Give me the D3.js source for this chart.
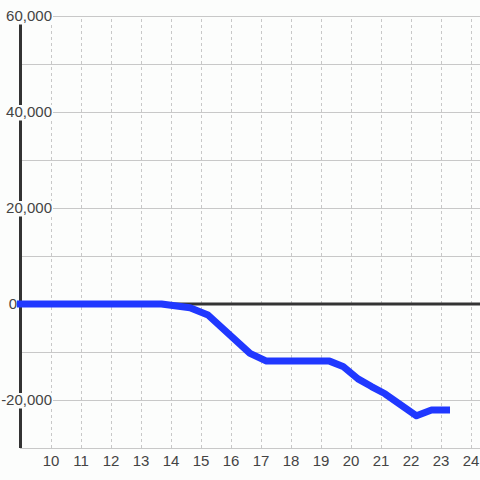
<!DOCTYPE html>
<html>
<head>
<meta charset="utf-8">
<script src="https://cdn.jsdelivr.net/npm/d3@7"></script>
<style>
body { margin: 0; background: #fcfdfc; }
svg { display: block; font-family: 'Liberation Sans', Arial, sans-serif; }
</style>
</head>
<body>
<svg width="480" height="480"></svg>
<script>
// series
const xValues = [9, 13.7, 14.65, 15.25, 16.65, 17.2, 19.3, 19.75, 20.25, 20.7, 21.15, 22.2, 22.7, 23.2]
const yValues = [0, 0, -800, -2300, -10300, -11900, -11900, -13000, -15600, -17200, -18700, -23300, -22100, -22100]

const xTicks = d3.range(10, 25)
const yTicks = [-20000, 0, 20000, 40000, 60000]
const yGrid = d3.range(-30000, 60001, 10000)

const x = d3.scaleLinear().domain([9, 24.3]).range([20.5, 479.5])
const y = d3.scaleLinear().domain([-30000, 60000]).range([448, 16])

const svg = d3.select('svg')

// horizontal grid
svg.append('g')
    .selectAll('line')
    .data(yGrid)
    .enter()
    .append('line')
    .attr('x1', 20)
    .attr('x2', 480)
    .attr('y1', d => Math.round(y(d)) + 0.5)
    .attr('y2', d => Math.round(y(d)) + 0.5)
    .attr('stroke', '#c8c8c8')

// x axis with dashed vertical grid
const xAxis = svg.append('g')
    .attr('transform', 'translate(0,448)')
    .call(d3.axisBottom(x).tickValues(xTicks).tickSize(-432).tickPadding(7))
xAxis.select('.domain').remove()
xAxis.selectAll('.tick line')
    .attr('stroke', '#c8c8c8')
    .attr('stroke-dasharray', '3,3')
    .attr('transform', 'translate(0.5,0)')
xAxis.selectAll('.tick text')
    .attr('fill', '#444')
    .style('font-size', '15px')
    .style('font-family', 'Liberation Sans, Arial, sans-serif')

// y axis line
svg.append('line')
    .attr('x1', 20.5).attr('x2', 20.5)
    .attr('y1', y(60000)).attr('y2', y(-30000))
    .attr('stroke', '#333')
    .attr('stroke-width', 3)

// zero line
svg.append('line')
    .attr('x1', 20).attr('x2', 480)
    .attr('y1', y(0)).attr('y2', y(0))
    .attr('stroke', '#333')
    .attr('stroke-width', 3)

// y labels with a background
const fmt = d => d3.format(',')(d).replace('\u2212', '-')
const yAxis = svg.append('g')
    .attr('transform', 'translate(52,0)')
    .call(d3.axisLeft(y).tickValues(yTicks).tickSize(0).tickPadding(0).tickFormat(fmt))
yAxis.select('.domain').remove()
yAxis.selectAll('.tick text')
    .attr('x', d => d === 0 ? -35 : 0)
    .attr('fill', '#444')
    .style('font-size', '15px')
    .style('font-family', 'Liberation Sans, Arial, sans-serif')
yAxis.selectAll('.tick').each(function () {
    const t = d3.select(this).select('text')
    const b = t.node().getBBox()
    d3.select(this).insert('rect', 'text')
        .attr('x', b.x - 2)
        .attr('y', -7.5)
        .attr('width', b.width + 3)
        .attr('height', 15.5)
        .attr('fill', '#fcfdfc')
})

// series line
const line = d3.line()
    .x((d, i) => x(xValues[i]))
    .y(d => y(d))

svg.append('path')
    .datum(yValues)
    .attr('d', line)
    .attr('fill', 'none')
    .attr('stroke', '#2038ff')
    .attr('stroke-width', 7)
    .attr('stroke-linecap', 'square')
    .attr('stroke-linejoin', 'round')
</script>
</body>
</html>
